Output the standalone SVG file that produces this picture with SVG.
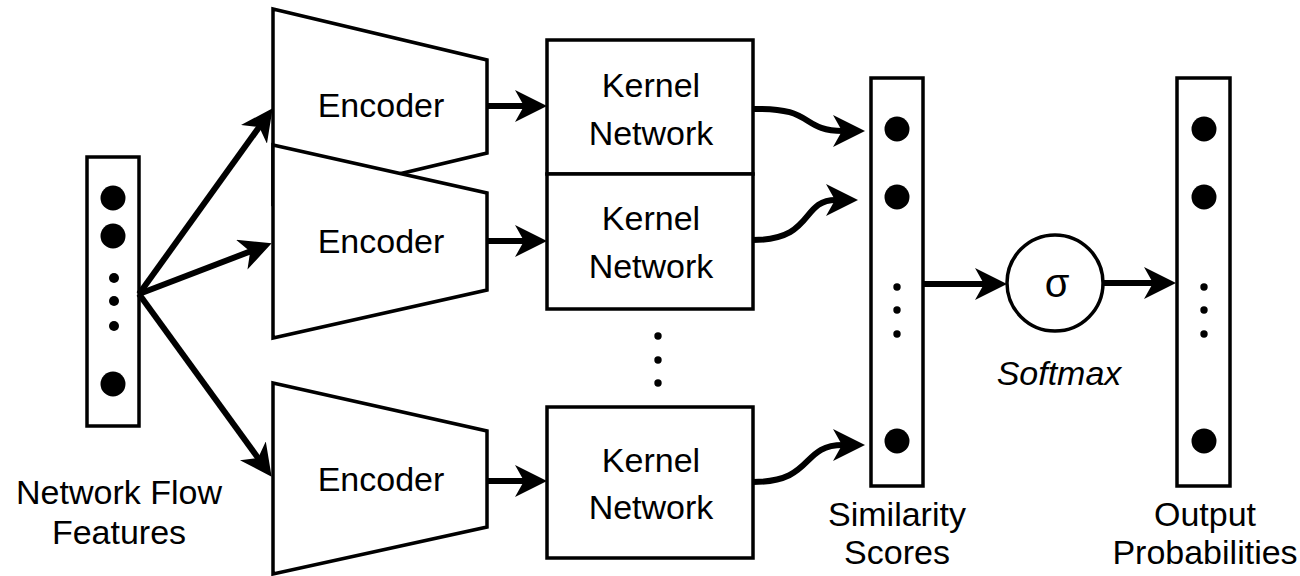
<svg xmlns="http://www.w3.org/2000/svg" width="1300" height="576" viewBox="0 0 1300 576">
  <defs>
    <style>
      .shape { fill: #ffffff; stroke: #000000; stroke-width: 3.5; }
      .dot { fill: #000000; }
      .conn { fill: none; stroke: #000000; stroke-width: 6; }
      .lbl { font-family: "Liberation Sans", Arial, sans-serif; font-size: 34px; fill: #000000; text-anchor: middle; }
    </style>
    <marker id="arrow" viewBox="0 0 32 32" refX="10" refY="16" markerWidth="32" markerHeight="32" markerUnits="userSpaceOnUse" orient="auto">
      <path d="M0,0 L32,16 L0,32 L9,16 Z" fill="#000000"/>
    </marker>
  </defs>

  <rect width="1300" height="576" fill="#ffffff"/>

  <g id="input-vector">
    <rect class="shape" x="87" y="157" width="52" height="269"/>
    <circle class="dot" cx="113" cy="198" r="12.5"/>
    <circle class="dot" cx="113" cy="236" r="12.5"/>
    <circle class="dot" cx="114" cy="278" r="5"/>
    <circle class="dot" cx="114" cy="301" r="5"/>
    <circle class="dot" cx="114" cy="326" r="5"/>
    <circle class="dot" cx="113" cy="384" r="12.5"/>
    <text class="lbl" x="119" y="504">Network Flow</text>
    <text class="lbl" x="119" y="544">Features</text>
  </g>

  <g id="encoder-1">
    <polygon class="shape" points="273,9 487,60 487,153 273,204"/>
    <text class="lbl" x="381" y="117">Encoder</text>
  </g>
  <g id="encoder-2">
    <polygon class="shape" points="273,145 487,193 487,290 273,338"/>
    <text class="lbl" x="381" y="253">Encoder</text>
  </g>
  <g id="encoder-3">
    <polygon class="shape" points="273,383 487,431 487,527 273,574"/>
    <text class="lbl" x="381" y="491">Encoder</text>
  </g>

  <g id="kernel-1">
    <rect class="shape" x="547" y="40" width="206" height="134"/>
    <text class="lbl" x="651" y="97">Kernel</text>
    <text class="lbl" x="651" y="145">Network</text>
  </g>
  <g id="kernel-2">
    <rect class="shape" x="547" y="174" width="206" height="135"/>
    <text class="lbl" x="651" y="230">Kernel</text>
    <text class="lbl" x="651" y="278">Network</text>
  </g>
  <g id="kernel-ellipsis">
    <circle class="dot" cx="658" cy="336" r="3.7"/>
    <circle class="dot" cx="658" cy="360" r="3.7"/>
    <circle class="dot" cx="658" cy="383" r="3.7"/>
  </g>
  <g id="kernel-3">
    <rect class="shape" x="547" y="407" width="206" height="151"/>
    <text class="lbl" x="651" y="472">Kernel</text>
    <text class="lbl" x="651" y="519">Network</text>
  </g>

  <g id="similarity-scores">
    <rect class="shape" x="871" y="78" width="52" height="408"/>
    <circle class="dot" cx="897" cy="129" r="12.5"/>
    <circle class="dot" cx="897" cy="197" r="12.5"/>
    <circle class="dot" cx="897" cy="287" r="3.7"/>
    <circle class="dot" cx="897" cy="310" r="3.7"/>
    <circle class="dot" cx="897" cy="334" r="3.7"/>
    <circle class="dot" cx="897" cy="441" r="12.5"/>
    <text class="lbl" x="897" y="526">Similarity</text>
    <text class="lbl" x="897" y="564">Scores</text>
  </g>

  <g id="softmax">
    <circle class="shape" cx="1055" cy="283" r="48"/>
    <text class="lbl" x="1057" y="297" style="font-size:40px">σ</text>
    <text class="lbl" x="1059" y="385" style="font-style:italic">Softmax</text>
  </g>

  <g id="output-probabilities">
    <rect class="shape" x="1177" y="78" width="53" height="408"/>
    <circle class="dot" cx="1204" cy="129" r="12.5"/>
    <circle class="dot" cx="1204" cy="197" r="12.5"/>
    <circle class="dot" cx="1204" cy="287" r="3.7"/>
    <circle class="dot" cx="1204" cy="310" r="3.7"/>
    <circle class="dot" cx="1204" cy="334" r="3.7"/>
    <circle class="dot" cx="1204" cy="441" r="12.5"/>
    <text class="lbl" x="1205" y="526">Output</text>
    <text class="lbl" x="1205" y="564">Probabilities</text>
  </g>

  <g id="connectors">
    <path class="conn" d="M139,294 L259.8,126.2" marker-end="url(#arrow)"/>
    <path class="conn" d="M139,294 L251.1,251.1" marker-end="url(#arrow)"/>
    <path class="conn" d="M139,294 L258.7,458.9" marker-end="url(#arrow)"/>
    <path class="conn" d="M487,106 L525,106" marker-end="url(#arrow)"/>
    <path class="conn" d="M487,241 L525,241" marker-end="url(#arrow)"/>
    <path class="conn" d="M487,481 L525,481" marker-end="url(#arrow)"/>
    <path class="conn" d="M753,109 C815,107 800,131 843,131" marker-end="url(#arrow)"/>
    <path class="conn" d="M753,240 C815,240 800,200 836,200" marker-end="url(#arrow)"/>
    <path class="conn" d="M753,482 C815,482 800,445 843,445" marker-end="url(#arrow)"/>
    <path class="conn" d="M923,284 L985,284" marker-end="url(#arrow)"/>
    <path class="conn" d="M1104,283 L1154,283" marker-end="url(#arrow)"/>
  </g>
</svg>
